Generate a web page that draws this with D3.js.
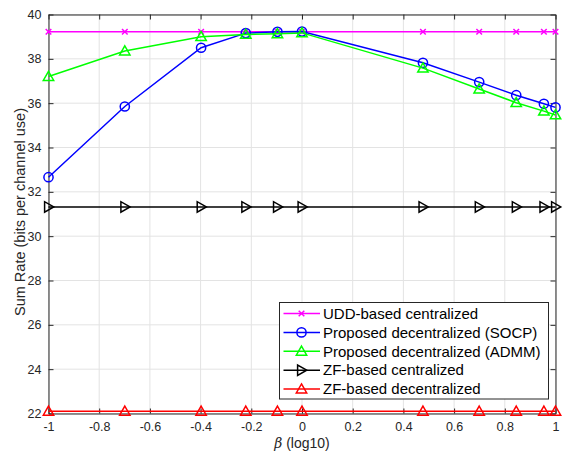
<!DOCTYPE html>
<html><head><meta charset="utf-8">
<script src="https://cdn.jsdelivr.net/npm/d3@7"></script>
<style>body{margin:0;background:#fff;} text{font-family:"Liberation Sans",Arial,Helvetica,sans-serif;}</style>
</head><body><svg id="c" width="563" height="455"></svg>
<script>
const xVals = [-1, -0.699, -0.398, -0.2218, -0.0969, 0, 0.4771, 0.699, 0.8451, 0.9542, 1];
const uddCentral = [39.22, 39.22, 39.22, 39.22, 39.22, 39.22, 39.22, 39.22, 39.22, 39.22, 39.22];
const socp = [32.66, 35.85, 38.50, 39.16, 39.22, 39.23, 37.82, 36.95, 36.36, 35.97, 35.81];
const admm = [37.20, 38.35, 39.00, 39.10, 39.13, 39.17, 37.58, 36.64, 36.02, 35.64, 35.47];
const zfCentral = [31.32, 31.32, 31.32, 31.32, 31.32, 31.32, 31.32, 31.32, 31.32, 31.32, 31.32];
const zfDecentral = [22.10, 22.10, 22.10, 22.10, 22.10, 22.10, 22.10, 22.10, 22.10, 22.10, 22.10];
const seriesNames = ["UDD-based centralized","Proposed decentralized (SOCP)","Proposed decentralized (ADMM)","ZF-based centralized","ZF-based decentralized"];
const xTicks = [-1,-0.8,-0.6,-0.4,-0.2,0,0.2,0.4,0.6,0.8,1];
const yTicks = [22,24,26,28,30,32,34,36,38,40];

const series = [
  {name: seriesNames[0], data: uddCentral, color: "#ff00ff", marker: "x"},
  {name: seriesNames[1], data: socp, color: "#0000ff", marker: "o"},
  {name: seriesNames[2], data: admm, color: "#00ff00", marker: "^"},
  {name: seriesNames[3], data: zfCentral, color: "#000000", marker: ">"},
  {name: seriesNames[4], data: zfDecentral, color: "#ff0000", marker: "^"}
];

const L = 48.5, R = 555.5, T = 14.5, B = 413.5;
const svg = d3.select("#c");
const x = d3.scaleLinear().domain([-1,1]).range([L,R]);
const y = d3.scaleLinear().domain([22,40]).range([B,T]);
const axisColor = "#262626";

// grid
const g = svg.append("g");
g.selectAll(".gx").data(xTicks).join("line")
  .attr("x1", d=>x(d)).attr("x2", d=>x(d)).attr("y1", T).attr("y2", B)
  .attr("stroke", "#e3e3e3").attr("stroke-width", 1);
g.selectAll(".gy").data(yTicks).join("line")
  .attr("y1", d=>y(d)).attr("y2", d=>y(d)).attr("x1", L).attr("x2", R)
  .attr("stroke", "#e3e3e3").attr("stroke-width", 1);

// axes
const fmt = d => String(d);
const xb = svg.append("g").attr("transform", `translate(0,${B})`)
  .call(d3.axisBottom(x).tickValues(xTicks).tickSizeInner(-5).tickSizeOuter(0).tickPadding(9).tickFormat(fmt));
const xt = svg.append("g").attr("transform", `translate(0,${T})`)
  .call(d3.axisTop(x).tickValues(xTicks).tickSizeInner(-5).tickSizeOuter(0).tickFormat(""));
const yl = svg.append("g").attr("transform", `translate(${L},0)`)
  .call(d3.axisLeft(y).tickValues(yTicks).tickSizeInner(-5).tickSizeOuter(0).tickPadding(7).tickFormat(fmt));
const yr = svg.append("g").attr("transform", `translate(${R},0)`)
  .call(d3.axisRight(y).tickValues(yTicks).tickSizeInner(-5).tickSizeOuter(0).tickFormat(""));
[xb,xt,yl,yr].forEach(a=>{
  a.selectAll("path").attr("stroke", axisColor).attr("stroke-width", 1);
  a.selectAll("line").attr("stroke", axisColor);
  a.selectAll("text").attr("fill", axisColor).style("font-size","12.5px").style("font-family","Liberation Sans, Arial, sans-serif");
});

function drawMarker(sel, type, color, cx, cy) {
  if (type === "o") {
    sel.append("circle").attr("cx",cx).attr("cy",cy).attr("r",4.6)
      .attr("fill","none").attr("stroke",color).attr("stroke-width",1.5);
  } else if (type === "x") {
    const s = 2.8;
    sel.append("path").attr("d",`M${cx-s},${cy-s}L${cx+s},${cy+s}M${cx-s},${cy+s}L${cx+s},${cy-s}`)
      .attr("stroke",color).attr("stroke-width",1.5).attr("fill","none");
  } else if (type === "^") {
    const s = 5.2;
    sel.append("path").attr("d",`M${cx},${cy-s}L${cx+s},${cy+s*0.75}L${cx-s},${cy+s*0.75}Z`)
      .attr("stroke",color).attr("stroke-width",1.5).attr("fill","none");
  } else if (type === ">") {
    const s = 5.2;
    sel.append("path").attr("d",`M${cx+s},${cy}L${cx-s*0.75},${cy-s}L${cx-s*0.75},${cy+s}Z`)
      .attr("stroke",color).attr("stroke-width",1.5).attr("fill","none");
  }
}

const line = d3.line().x((d,i)=>x(xVals[i])).y(d=>y(d));
const plot = svg.append("g");
series.forEach(s=>{
  const gs = plot.append("g");
  gs.append("path").datum(s.data).attr("d", line)
    .attr("fill","none").attr("stroke", s.color).attr("stroke-width",1.5);
  s.data.forEach((v,i)=>drawMarker(gs, s.marker, s.color, x(xVals[i]), y(v)));
});

// labels
svg.append("text").attr("x", (L+R)/2).attr("y", 448).attr("text-anchor","middle")
  .attr("fill", axisColor).style("font-size","14px")
  .html('<tspan font-style="italic" font-family="DejaVu Serif, serif">β</tspan> (log10)');
svg.append("text").attr("transform", `translate(24.5,${(T+B)/2 - 2}) rotate(-90)`)
  .attr("text-anchor","middle").attr("fill", axisColor).style("font-size","14.5px")
  .text("Sum Rate (bits per channel use)");

// legend
const lg = svg.append("g");
const lx = 279.5, ly = 302.5, lw = 269, lh = 96.5;
lg.append("rect").attr("x",lx).attr("y",ly).attr("width",lw).attr("height",lh)
  .attr("fill","#fff").attr("stroke","#262626").attr("stroke-width",1);
series.forEach((s,i)=>{
  const yy = ly + 11 + i*18.9;
  lg.append("line").attr("x1",283.5).attr("x2",320).attr("y1",yy).attr("y2",yy)
    .attr("stroke",s.color).attr("stroke-width",1.5);
  drawMarker(lg, s.marker, s.color, 301.5, yy);
  lg.append("text").attr("x",323).attr("y",yy).attr("dy","0.35em")
    .attr("fill","#000").style("font-size","15px").text(s.name);
});
</script></body></html>
